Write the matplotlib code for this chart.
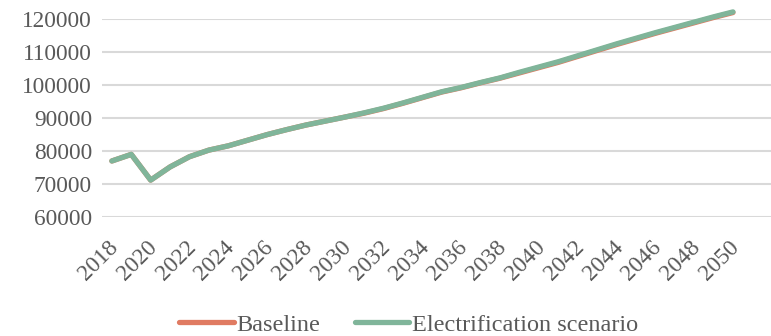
import matplotlib.pyplot as plt
from matplotlib.transforms import ScaledTranslation

plt.rcParams['font.family'] = ['Liberation Serif', 'DejaVu Serif']

years = list(range(2018, 2051))
electrification = [77000, 79000, 71200, 75200, 78300, 80300, 81600, 83300, 85000, 86500,
                   87900, 89100, 90300, 91600, 93000, 94600, 96300, 98000, 99300, 100800,
                   102200, 103900, 105500, 107100, 108900, 110700, 112500, 114200, 115900,
                   117500, 119100, 120700, 122200]
baseline = [77000, 79000, 71200, 75200, 78300, 80300, 81600, 83300, 85000, 86500,
            87900, 89100, 90300, 91500, 92900, 94500, 96200, 97900, 99200, 100700,
            102100, 103700, 105300, 106900, 108700, 110500, 112300, 114000, 115700,
            117300, 118900, 120500, 122000]
y_ticks = [60000, 70000, 80000, 90000, 100000, 110000, 120000]

fig = plt.figure(figsize=(7.71, 3.36), dpi=100)
ax = fig.add_axes([0.132, 0.354, 0.868, 0.589])

ax.plot(years, baseline, color='#E07B62', lw=3.8, solid_capstyle='round',
        label='Baseline', clip_on=False, zorder=3)
ax.plot(years, electrification, color='#80B59A', lw=3.8, solid_capstyle='round',
        label='Electrification scenario', clip_on=False, zorder=4)

ax.set_ylim(60000, 120000)
ax.set_yticks(y_ticks)
ax.set_xlim(2017.48, 2051.96)
ax.set_xticks(years[::2])
ax.set_xticklabels([str(y) for y in years[::2]], rotation=45, ha='right',
                   va='top', rotation_mode='anchor')
ax.tick_params(length=0, labelsize=16.8, labelcolor='#595959')
ax.tick_params(axis='y', pad=7)
ax.tick_params(axis='x', pad=14)
# nudge the slanted year labels a little to the left
shift = ScaledTranslation(-3 / 72, 0, fig.dpi_scale_trans)
for lbl in ax.get_xticklabels():
    lbl.set_transform(lbl.get_transform() + shift)
ax.grid(axis='y', color='#D9D9D9', lw=1.5)
ax.set_axisbelow(True)
for s in ax.spines.values():
    s.set_visible(False)

leg = fig.legend(loc='lower center', bbox_to_anchor=(0.53, -0.065), ncol=2,
                 frameon=False, fontsize=17.5, handlelength=2.25, handletextpad=0.1,
                 columnspacing=1.4)
for t in leg.get_texts():
    t.set_color('#595959')

fig.savefig('out.png', dpi=100)
